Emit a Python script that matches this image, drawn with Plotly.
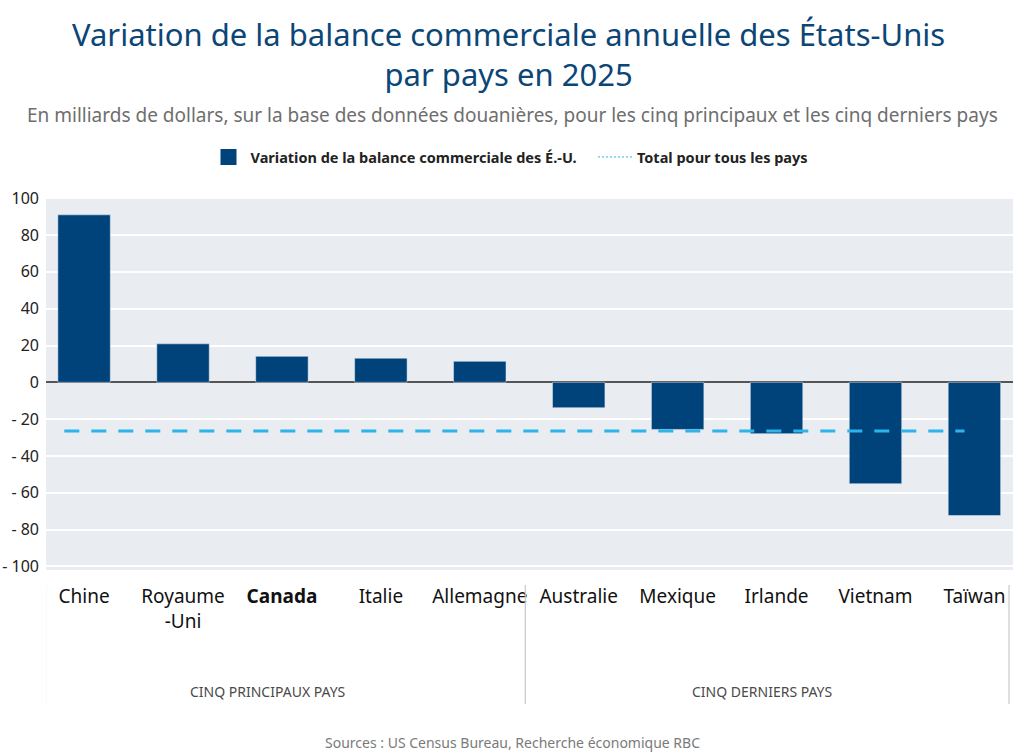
import plotly.graph_objects as go

countries = ["Chine", "Royaume<br>-Uni", "<b>Canada</b>", "Italie", "Allemagne",
             "Australie", "Mexique", "Irlande", "Vietnam", "Taïwan"]
values = [91.0, 20.9, 14.1, 13.1, 11.4, -13.8, -25.6, -27.9, -55.1, -72.4]
total_value = -26.5
groups = ["CINQ PRINCIPAUX PAYS", "CINQ DERNIERS PAYS"]
group_members = [[0, 1, 2, 3, 4], [5, 6, 7, 8, 9]]
y_ticks = [100, 80, 60, 40, 20, 0, -20, -40, -60, -80, -100]
y_tick_text = [str(v) if v >= 0 else "- " + str(-v) for v in y_ticks]

FONT = "Noto Sans"
BAR = "#00427a"
LINE = "#2db4e8"
xpos = list(range(len(countries)))

PT, PB = 197, 570  # plot top / bottom in pixels
PH = PB - PT


def py(pix):
    return (PB - pix) / PH


def px(pix):
    return (pix - 46) / 967


fig = go.Figure()
fig.add_trace(go.Bar(
    x=xpos, y=values, width=0.53, marker_color=BAR, showlegend=False,
    name="Variation de la balance commerciale des É.-U.",
))
fig.add_trace(go.Scatter(
    x=[xpos[0] - 0.2, xpos[-1] - 0.1], y=[total_value, total_value], mode="lines",
    line=dict(color=LINE, width=3, dash="15px,12px"), showlegend=False,
    name="Total pour tous les pays",
))
# legend entries
fig.add_trace(go.Scatter(
    x=[None], y=[None], mode="markers",
    marker=dict(symbol="square", size=16, color=BAR),
    name="Variation de la balance commerciale des É.-U.&nbsp;&nbsp;&nbsp;",
))
fig.add_trace(go.Scatter(
    x=[None], y=[None], mode="lines",
    line=dict(color=LINE, width=1, dash="2px,2px"),
    name="Total pour tous les pays",
))

shapes = []
bounds = [-0.39, 4.46, 9.35]
for b in bounds:
    shapes.append(dict(type="line", xref="x", yref="paper", x0=b, x1=b,
                       y0=py(585), y1=py(704), line=dict(color="#c8c8c8", width=1.2)))
annotations = []
for g, mem in zip(groups, group_members):
    annotations.append(dict(text=g, x=sum(mem) / len(mem), xref="x", y=py(691), yref="paper",
                            xshift=-14, showarrow=False, yanchor="middle",
                            font=dict(family=FONT, size=14, color="#4a4a4a")))
annotations.append(dict(text="Sources : US Census Bureau, Recherche économique RBC",
                        x=px(512), xref="paper", y=py(742), yref="paper", yanchor="middle",
                        showarrow=False, font=dict(family=FONT, size=14, color="#7a7a7a")))
annotations.append(dict(text="En milliards de dollars, sur la base des données douanières, pour les cinq principaux et les cinq derniers pays",
                        x=px(512), xref="paper", y=py(115), yref="paper",
                        yanchor="middle", showarrow=False,
                        font=dict(family=FONT, size=19, color="#6e6e6e")))
annotations.append(dict(text="Variation de la balance commerciale annuelle des États-Unis<br>par pays en 2025",
                        x=px(508), xref="paper", y=py(54), yref="paper",
                        yanchor="middle", showarrow=False,
                        font=dict(family=FONT, size=31, color="#0b4677")))

fig.update_layout(
    width=1024, height=755,
    margin=dict(l=46, r=11, t=PT, b=755 - PB, autoexpand=False),
    paper_bgcolor="white", plot_bgcolor="#e9edf2",
    font=dict(family=FONT, color="#222"),
    showlegend=True,
    legend=dict(orientation="h", x=px(510), xanchor="center", y=py(157), yanchor="middle",
                font=dict(family=FONT, size=14.5, color="#222", weight="bold"),
                itemwidth=34, bgcolor="rgba(0,0,0,0)"),
    xaxis=dict(range=[-0.385, 9.39], tickmode="array", tickvals=xpos, ticktext=countries,
               showgrid=False, zeroline=False, ticks="", showline=False, automargin=False,
               tickfont=dict(family=FONT, size=19, color="#111"), ticklabelstandoff=13),
    yaxis=dict(range=[-102, 100.7], tickmode="array", tickvals=y_ticks, ticktext=y_tick_text,
               showgrid=True, gridcolor="white", gridwidth=2, automargin=False,
               zeroline=True, zerolinecolor="#555", zerolinewidth=1.5,
               ticks="", tickfont=dict(family=FONT, size=16, color="#222"), ticklabelstandoff=6),
    shapes=shapes, annotations=annotations,
)
fig.write_html("out.html")
